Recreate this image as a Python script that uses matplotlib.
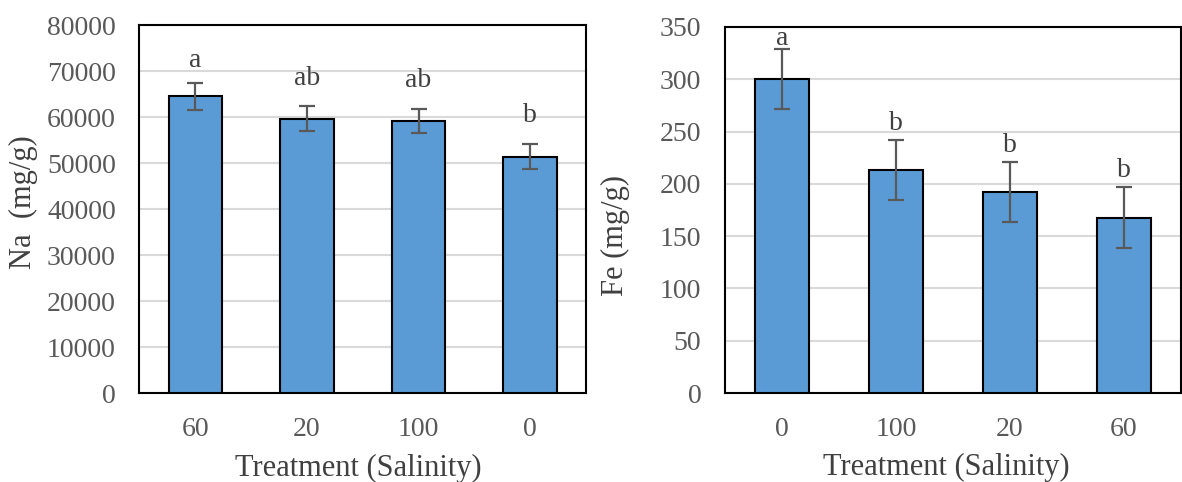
import numpy as np
import matplotlib.pyplot as plt

plt.rcParams['font.family'] = ['Liberation Serif', 'DejaVu Serif']

na_labels = ['60', '20', '100', '0']
na_values = [64500, 59600, 59200, 51400]
na_errors = [2900, 2700, 2600, 2750]
na_letters = ['a', 'ab', 'ab', 'b']

fe_labels = ['0', '100', '20', '60']
fe_values = [300, 213.6, 192.2, 167.6]
fe_errors = [28.7, 28.7, 28.7, 29]
fe_letters = ['a', 'b', 'b', 'b']

bar_col = '#5b9bd5'
tick_col = '#595959'
lab_col = '#404040'

fig = plt.figure(figsize=(11.82, 4.82), dpi=100)
ax1 = fig.add_axes([0.118, 0.1846, 0.3778, 0.7635])
ax2 = fig.add_axes([0.6134, 0.1846, 0.3858, 0.7594])


def draw(ax, labels, values, errors, letters, ymax, step, ylabel, gap, ylab_x, ylab_y, xlab_x):
    x = np.arange(len(labels))
    ax.bar(x, values, width=0.48, color=bar_col, edgecolor='black', linewidth=1.5, zorder=3)
    ax.errorbar(x, values, yerr=errors, fmt='none', ecolor=tick_col, elinewidth=1.6,
                capsize=6, capthick=1.6, zorder=4)
    for xi, v, e, t in zip(x, values, errors, letters):
        # letters without ascender sit a little closer to the error bar
        off = gap - 4 if t == 'a' else gap
        ax.annotate(t, (xi, v + e), xytext=(0, off), textcoords='offset points',
                    ha='center', va='baseline', fontsize=20, color=lab_col)
    ax.set_xlim(-0.5, len(labels) - 0.5)
    ax.set_ylim(0, ymax)
    ax.set_yticks(np.arange(0, ymax + 1, step))
    ax.set_xticks(x)
    ax.set_xticklabels(labels)
    ax.yaxis.grid(True, color='#d9d9d9', linewidth=1.5, zorder=0)
    ax.set_axisbelow(True)
    ax.tick_params(axis='both', length=0, labelsize=20, colors=tick_col)
    ax.tick_params(axis='y', pad=17)
    ax.tick_params(axis='x', pad=17)
    for s in ax.spines.values():
        s.set_color('black')
        s.set_linewidth(1.5)
    ax.set_ylabel(ylabel, fontsize=22, color=lab_col)
    ax.yaxis.set_label_coords(ylab_x, ylab_y)
    ax.set_xlabel('Treatment (Salinity)', fontsize=22, color=lab_col)
    ax.xaxis.set_label_coords(xlab_x, -0.165)


draw(ax1, na_labels, na_values, na_errors, na_letters, 80000, 10000, 'Na  (mg/g)', 15.5, -0.227, 0.52, 0.49)
draw(ax2, fe_labels, fe_values, fe_errors, fe_letters, 350, 50, 'Fe (mg/g)', 7.2, -0.208, 0.43, 0.486)

plt.savefig('out.png', dpi=100)
